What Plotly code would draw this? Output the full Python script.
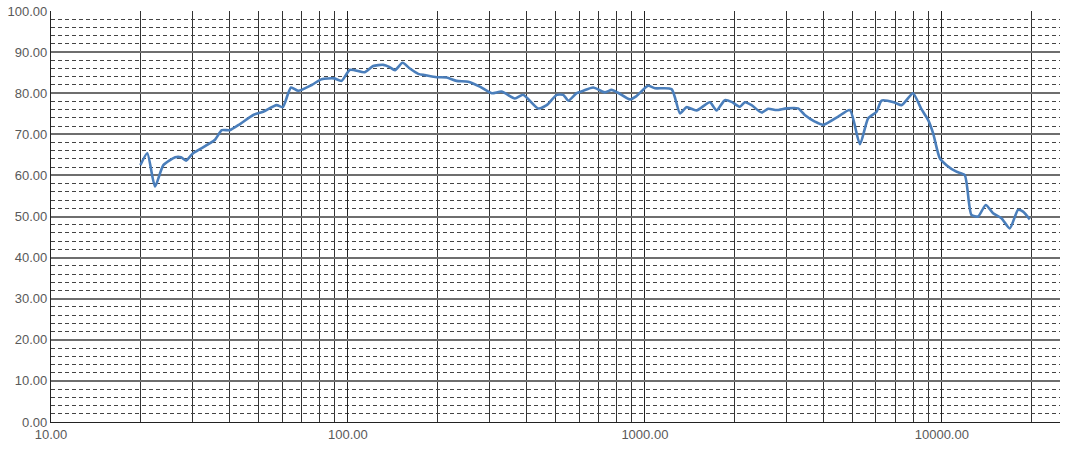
import plotly.graph_objects as go

freq = [20, 21.1, 22.4, 23.9, 26.2, 27.4, 28.5, 30.1, 35.6, 37.6, 40, 43.3, 48, 51.8, 57.5, 60.3,
        64.3, 68, 75.5, 81.5, 89.7, 95.2, 101.6, 114, 121.6, 131.5, 137.8, 144, 152.7, 161.7,
        172.5, 181.6, 199, 215, 232, 254, 278, 305, 329, 365, 389, 437, 467, 505, 531, 552,
        589, 620, 670, 733, 772, 813, 890, 937, 1025, 1081, 1230, 1313, 1381, 1493, 1655,
        1743, 1859, 1958, 2089, 2172, 2287, 2472, 2602, 2776, 2998, 3281, 3455, 3735, 3986,
        4477, 4900, 5300, 5650, 6030, 6270, 6950, 7318, 7700, 8000, 8540, 8990, 9350, 9840,
        10370, 11200, 11940, 12580, 13250, 14060, 14880, 15880, 16940, 18060, 18780, 19780]
spl = [62.5, 65.4, 57.3, 62.5, 64.4, 64.4, 63.6, 65.4, 68.6, 71.0, 71.0, 72.5, 74.7, 75.5, 77.1, 76.6,
       81.4, 80.6, 82.0, 83.4, 83.6, 83.0, 85.7, 85.1, 86.6, 86.9, 86.4, 85.6, 87.4, 86.0,
       84.7, 84.4, 83.9, 83.8, 83.0, 82.8, 81.6, 80.0, 80.4, 78.7, 79.6, 76.3, 77.1, 79.6, 79.6, 78.2,
       80.0, 80.6, 81.4, 80.2, 80.8, 80.1, 78.5, 79.3, 81.8, 81.2, 81.0, 75.1, 76.6, 75.8, 77.8,
       75.8, 78.3, 77.9, 76.7, 77.8, 77.1, 75.3, 76.2, 75.9, 76.3, 76.3, 74.7, 73.1, 72.3,
       74.3, 75.9, 67.6, 73.9, 75.5, 78.2, 77.7, 77.1, 78.8, 80.0, 76.1, 73.5, 70.2, 64.2,
       62.5, 60.9, 60.1, 50.4, 50.0, 52.8, 50.8, 49.6, 47.1, 51.6, 51.2, 49.3]

x_major = [10, 100, 1000, 10000]
x_labels = ["10.00", "100.00", "1000.00", "10000.00"]
x_minor = [m * d for d in (10, 100, 1000) for m in range(2, 10)] + [20000]

fig = go.Figure()
fig.add_trace(go.Scatter(x=freq, y=spl, mode="lines",
                         line=dict(color="#4a7ebb", width=2.6, shape="spline", smoothing=0.6),
                         showlegend=False, hoverinfo="x+y"))

fig.update_layout(
    width=1075, height=449,
    margin=dict(l=51, r=15, t=11, b=27),
    paper_bgcolor="white", plot_bgcolor="white",
    font=dict(family="Liberation Sans, Arial, sans-serif", size=13, color="#595959"),
    xaxis=dict(type="log", range=[1, 4.398], automargin=False,
               tickvals=x_major, ticktext=x_labels,
               showgrid=True, gridcolor="#222", gridwidth=1.2,
               showline=True, linecolor="#222", linewidth=1,
               ticks="", zeroline=False,
               minor=dict(tickvals=x_minor, showgrid=True, gridcolor="#333", gridwidth=1, ticks="")),
    yaxis=dict(range=[0, 100], dtick=10, tick0=0, tickformat=".2f", automargin=False,
               showgrid=True, gridcolor="#6e6e6e", gridwidth=1.5,
               showline=True, linecolor="#222", linewidth=1.2,
               ticks="", zeroline=False,
               minor=dict(dtick=2, tick0=0, showgrid=True, gridcolor="#444", gridwidth=1,
                          griddash="4px,3px", ticks="")),
)

fig.write_html("out.html", config={"displayModeBar": False},
               post_script="document.body.style.margin='0';")
